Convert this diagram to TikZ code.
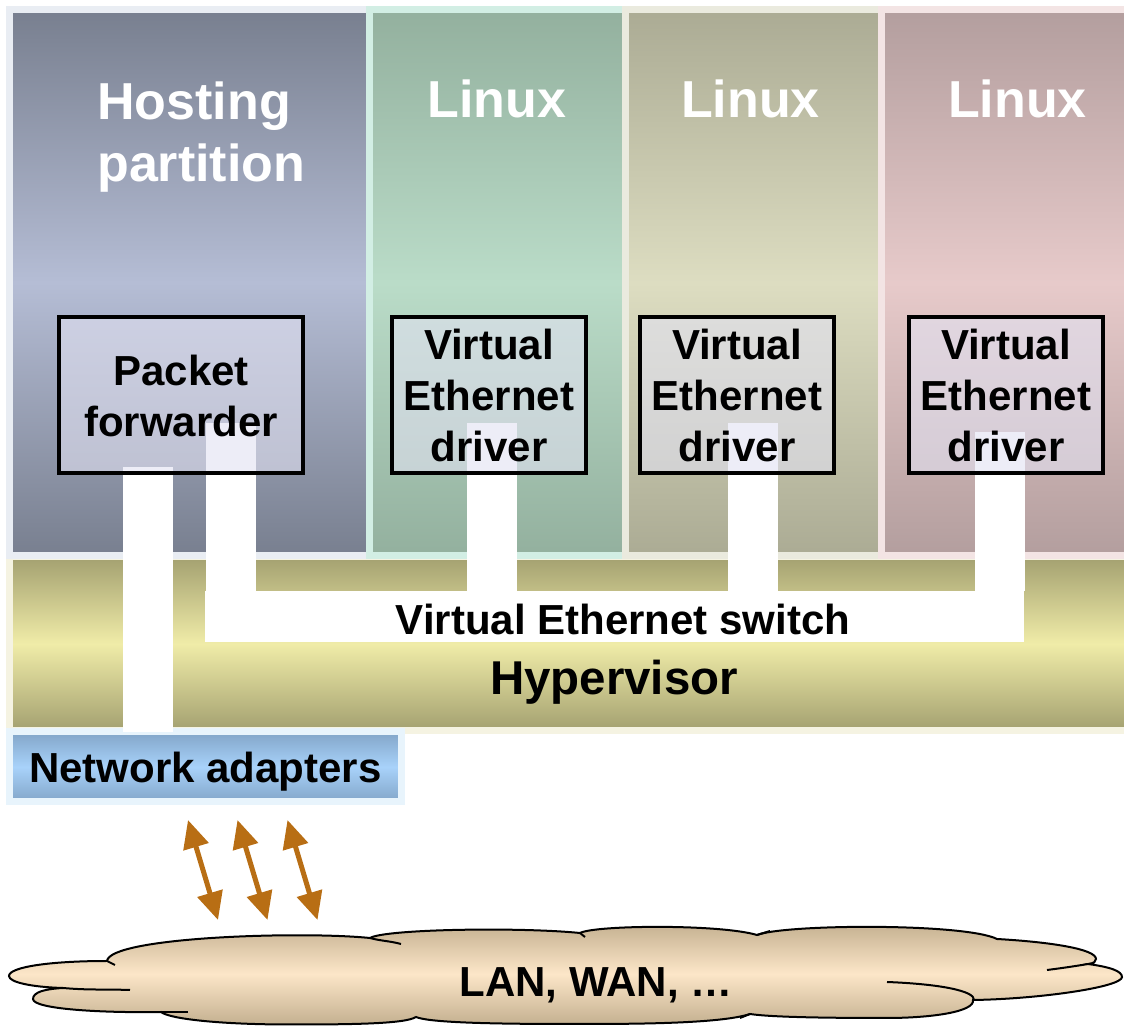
\documentclass[tikz,border=0pt]{standalone}
\usepackage{fontspec}
\setmainfont{Liberation Sans}
\usepackage{xcolor}
\definecolor{hostdark}{RGB}{120,127,143}
\definecolor{hostlight}{RGB}{181,189,213}
\definecolor{hostedge}{RGB}{233,237,243}
\definecolor{grndark}{RGB}{147,176,158}
\definecolor{grnlight}{RGB}{186,220,200}
\definecolor{grnedge}{RGB}{210,238,228}
\definecolor{tandark}{RGB}{171,171,148}
\definecolor{tanlight}{RGB}{221,221,193}
\definecolor{tanedge}{RGB}{234,234,222}
\definecolor{rosdark}{RGB}{179,158,158}
\definecolor{roslight}{RGB}{231,202,202}
\definecolor{rosedge}{RGB}{243,228,228}
\definecolor{hvdark}{RGB}{163,160,112}
\definecolor{hvlight}{RGB}{240,236,168}
\definecolor{hvedge}{RGB}{245,243,226}
\definecolor{nicdark}{RGB}{130,165,200}
\definecolor{niclight}{RGB}{168,210,250}
\definecolor{nicedge}{RGB}{232,244,252}
\definecolor{boxfill}{RGB}{226,226,242}
\definecolor{clouddark}{RGB}{196,176,144}
\definecolor{cloudlight}{RGB}{252,230,200}
\definecolor{linkbrown}{RGB}{184,110,20}
\usepackage{tikz}
\usetikzlibrary{arrows.meta,positioning,calc}
\pgfdeclarelayer{back}
\pgfdeclarelayer{mid}
\pgfsetlayers{back,mid,main}
\newcommand{\ttlfont}{\fontsize{39}{46.5}\selectfont\bfseries}
\newcommand{\lblfont}{\fontsize{31.5}{38.25}\selectfont\bfseries}
\newcommand{\hvfont}{\fontsize{35.6}{42}\selectfont\bfseries}

\begin{document}
\begin{tikzpicture}[x=0.75pt,y=0.75pt,
  panel/.style n args={3}{draw=#3,line width=5.25pt,top color=#1,bottom color=#1,middle color=#2},
  drvbox/.style={draw,line width=3pt,fill=boxfill,fill opacity=0.6,text opacity=1,
    minimum width=145.5pt,minimum height=117pt,inner sep=0pt,outer sep=0pt,align=center,font=\lblfont},
  bus/.style={white,line width=37.5pt},
  link/.style={linkbrown,line width=3.75pt,{Triangle[length=21pt,width=19pt]}-{Triangle[length=21pt,width=19pt]}},
  title/.style={white,inner sep=0pt,font=\ttlfont},
  cloudline/.style={line width=1.5pt}]
\useasboundingbox (0,0) rectangle (1124,1027);

\begin{pgfonlayer}{back}
  % hypervisor band and partitions
  \draw[panel={hvdark}{hvlight}{hvedge}] (9.5,296) rectangle (1127.5,470.5);
  \draw[panel={hostdark}{hostlight}{hostedge}] (9.5,471) rectangle (369.5,1017.5);
  \draw[panel={grndark}{grnlight}{grnedge}] (369.5,471) rectangle (625.5,1017.5);
  \draw[panel={tandark}{tanlight}{tanedge}] (625.5,471) rectangle (881.5,1017.5);
  \draw[panel={rosdark}{roslight}{rosedge}] (881.5,471) rectangle (1127.5,1017.5);
  \node[panel={nicdark}{niclight}{nicedge},minimum width=294pt,minimum height=52.5pt,
    outer sep=0pt,text depth=0pt,font=\lblfont] (adapt) at (205.5,260) {Network adapters};
  \node[fill=white,minimum width=614.25pt,minimum height=38.25pt,inner sep=0pt,outer sep=0pt] (sw) at (614.5,410.5) {};
\end{pgfonlayer}

% drivers
\node[drvbox,minimum width=183pt] (fwd) at (181,631.5) {Packet\\forwarder};
\node[drvbox] (drv1) at (489,631.5) {Virtual\\Ethernet\\driver};
\node[drvbox] (drv2) at (737,631.5) {Virtual\\Ethernet\\driver};
\node[drvbox] (drv3) at (1006,631.5) {Virtual\\Ethernet\\driver};

\begin{pgfonlayer}{mid}
  \draw[bus] ($(fwd.south)+(-33,6.5)$) coordinate (b0) -- (b0 |- adapt.north);
  \foreach \n/\dx/\dy in {fwd/49.5/50.5,drv1/3/50.5,drv2/16/50.5,drv3/-6.5/41.5}
    \draw[bus] ($(\n.south)+(\dx,\dy)$) coordinate (b) -- (b |- sw.north);
\end{pgfonlayer}

\node[title,align=left,anchor=west] (hostlbl) at (97,889.5) {Hosting\\partition};
\foreach \x/\n in {497/1,750.5/2,1017.5/3}
  \node[title,anchor=base] (lnx\n) at (\x,909) {Linux};
\node[font=\lblfont,anchor=base,inner sep=0pt] (swlbl) at (623,392) {Virtual Ethernet switch};
\node[font=\hvfont,anchor=base,inner sep=0pt] (hvlbl) at (614,332) {Hypervisor};

\foreach \dx in {0,49.5,99.5}
  \draw[link] ($(adapt.south)+(\dx-17.5,-18)$) -- ++(30,-100);

% network cloud
\draw[cloudline,top color=clouddark,bottom color=clouddark,middle color=cloudlight]
  (9,51) .. controls (9,60) and (50,66) .. (107,66)
  .. controls (110,90) and (300,96) .. (370,89)
  .. controls (385,98) and (520,100) .. (580,94)
  .. controls (595,102) and (720,103) .. (757,92)
  .. controls (785,103) and (965,104) .. (997,88)
  .. controls (1050,85) and (1096,78) .. (1096,68)
  .. controls (1096,65) and (1094,64) .. (1088,63)
  .. controls (1110,60) and (1122,56) .. (1122,50)
  .. controls (1122,40) and (1040,28) .. (973,27)
  .. controls (975,15) and (930,9) .. (887,9)
  .. controls (820,9) and (770,10) .. (750,13)
  .. controls (720,3) and (630,3) .. (573,3)
  .. controls (500,3) and (430,4) .. (416,10)
  .. controls (405,3) and (350,2.5) .. (290,2.5)
  .. controls (220,2.5) and (170,8) .. (161,15)
  .. controls (100,14) and (33,18) .. (33,28)
  .. controls (33,35) and (45,38) .. (63,39)
  .. controls (30,40) and (9,45) .. (9,51) -- cycle;
\draw[cloudline] (107,66) -- (115,62);
\draw[cloudline] (370,89) to[out=-15,in=165] (401,83);
\draw[cloudline] (580,94) -- (585,90);
\draw[cloudline] (757,92) -- (770,96);
\draw[cloudline] (1088,63) .. controls (1070,60) and (1055,58) .. (1047,57);
\draw[cloudline] (887,45) .. controls (940,43) and (975,36) .. (974,27);
\draw[cloudline] (750,13) -- (740,9);
\draw[cloudline] (63,39) to[out=-5,in=178] (130,37);
\draw[cloudline] (161,15) -- (188,15);
\node[font=\lblfont,anchor=base,inner sep=0pt] (netlbl) at (596,30) {LAN, WAN, …};
\end{tikzpicture}
\end{document}
